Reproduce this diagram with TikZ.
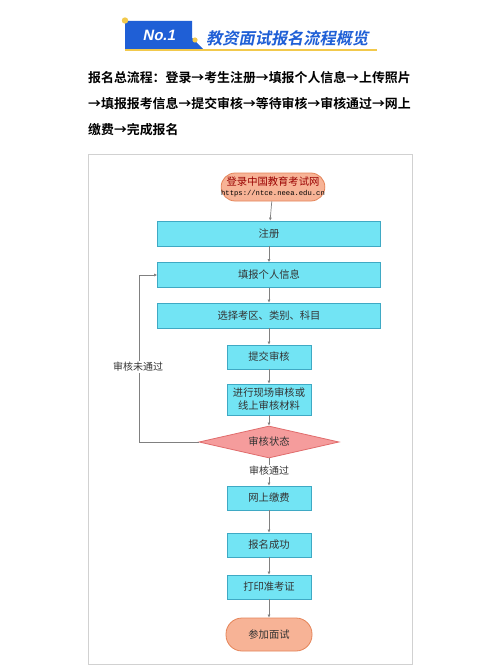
\documentclass[tikz,border=0pt]{standalone}
\usepackage{fontspec}
\usetikzlibrary{shapes.geometric,arrows.meta}
\newfontfamily\cjk{Noto Sans CJK SC}
\newfontfamily\cjkb{Noto Sans CJK SC Bold}
\newfontfamily\cjkbi[FakeSlant=0.2]{Noto Sans CJK SC Bold}
\newfontfamily\numf[FakeSlant=0.2]{Liberation Sans Bold}
\newfontfamily\monof{Liberation Mono}
\definecolor{hdblue}{HTML}{1F5FD6}
\definecolor{hdyellow}{HTML}{F2C94C}
\definecolor{boxfill}{HTML}{72E4F4}
\definecolor{boxline}{HTML}{3FA9C4}
\definecolor{ovalfill}{HTML}{F7B396}
\definecolor{ovalline}{HTML}{E58458}
\definecolor{diafill}{HTML}{F59C9C}
\definecolor{dialine}{HTML}{E06C6C}
\definecolor{lin}{HTML}{808080}
\definecolor{txt}{HTML}{333333}
\tikzset{
  wide/.style={draw=boxline, fill=boxfill, line width=0.8pt, minimum width=223pt, minimum height=25pt, inner sep=0pt, font=\cjk\fontsize{10.3}{12}\selectfont, text=txt},
  narrow/.style={draw=boxline, fill=boxfill, line width=0.8pt, minimum width=84pt, minimum height=24pt, inner sep=0pt, font=\cjk\fontsize{10.3}{12}\selectfont, text=txt, align=center},
  oval/.style={draw=ovalline, fill=ovalfill, line width=0.8pt, rounded corners=14pt, inner sep=0pt, align=center, font=\cjk\fontsize{10.3}{12}\selectfont},
  conn/.style={draw=lin, line width=0.7pt, -{Latex[length=3pt,width=3pt]}},
  lbl/.style={fill=white, inner sep=1pt, font=\cjk\fontsize{10}{12}\selectfont, text=txt},
  para/.style={anchor=west, inner sep=0pt, font=\cjkb\fontsize{12.9}{15}\selectfont, text=black}
}
\begin{document}
\begin{tikzpicture}[x=1pt,y=-1pt]
\useasboundingbox (0,0) rectangle (500,666);
\fill[white] (0,0) rectangle (500,666);
% header
\draw[hdyellow, line width=1.6pt] (125,50) -- (377,50);
\fill[hdblue] (125,21) -- (192,21) -- (192,38) -- (203,49) -- (125,49) -- cycle;
\fill[hdyellow] (125,20.5) circle (3.2);
\fill[hdyellow] (195,40) circle (2.6);
\node[text=white, font=\numf\fontsize{15}{17}\selectfont] (no) at (159,35) {No.1};
\node[anchor=west, inner sep=0pt, text=hdblue, font=\cjkbi\fontsize{16.2}{18}\selectfont] (title) at (206,38) {教资面试报名流程概览};
% paragraph
\node[para] (p1) at (88,78) {报名总流程：登录→考生注册→填报个人信息→上传照片};
\node[para] (p2) at (88,104) {→填报报考信息→提交审核→等待审核→审核通过→网上};
\node[para] (p3) at (88,130) {缴费→完成报名};
% frame
\draw[draw=black!18, line width=0.8pt] (88,154) rectangle (412,664);
% flowchart
\node[oval, minimum width=102pt, minimum height=28pt] (start) at (273,187) {\textcolor{red!60!black}{登录中国教育考试网}\\[-2pt]{\monof\fontsize{7.2}{8}\selectfont https://ntce.neea.edu.cn}};
\node[wide] (reg) at (269,233.5) {注册};
\node[wide] (info) at (269,275) {填报个人信息};
\node[wide] (sel) at (269,315.5) {选择考区、类别、科目};
\node[narrow] (sub) at (269,357) {提交审核};
\node[narrow, minimum height=31pt, font=\cjk\fontsize{10.3}{13}\selectfont] (chk) at (269,399.5) {进行现场审核或\\线上审核材料};
\node[diamond, draw=dialine, fill=diafill, line width=0.8pt, minimum width=140pt, minimum height=32pt, inner sep=0pt, aspect=4.4, font=\cjk\fontsize{10.3}{12}\selectfont, text=txt] (st) at (269,442) {审核状态};
\node[narrow] (pay) at (269,498) {网上缴费};
\node[narrow] (ok) at (269,545) {报名成功};
\node[narrow] (prt) at (269,587) {打印准考证};
\node[oval, minimum width=86pt, minimum height=33pt, rounded corners=16pt, text=txt] (end) at (269,634.5) {参加面试};
\coordinate (lc) at (139,442);
\coordinate (lt) at (139,275);
% connectors
\draw[conn] (start) -- (reg);
\draw[conn] (reg) -- (info);
\draw[conn] (info) -- (sel);
\draw[conn] (sel) -- (sub);
\draw[conn] (sub) -- (chk);
\draw[conn] (chk) -- (st);
\draw[conn] (st) -- (pay);
\draw[conn] (pay) -- (ok);
\draw[conn] (ok) -- (prt);
\draw[conn] (prt) -- (end);
\draw[conn] (st.west) -- (lc) -- (lt) -- (info.west);
\node[lbl] (fail) at (138,367) {审核未通过};
\node[lbl] (pass) at (269,471) {审核通过};
\end{tikzpicture}
\end{document}
